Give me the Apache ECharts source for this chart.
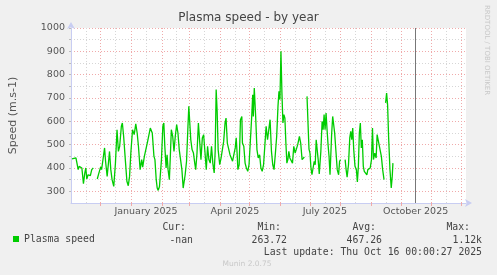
<!DOCTYPE html>
<html>
<head>
<meta charset="utf-8">
<script src="https://cdn.jsdelivr.net/npm/echarts@6/dist/echarts.min.js"></script>
<style>
html, body { margin: 0; padding: 0; background: #f0f0f0; }
#chart { width: 497px; height: 275px; }
</style>
</head>
<body>
<div id="chart"></div>
<script>
// day 0 = 2024-11-01, one value every day or so, null = no data
var startDate = '2024-11-01';
var spanDays = 400;
var nowDate = '2025-10-16';

var days = [1, 5, 5.6, 7.3, 8.3, 10, 11, 12.6, 14, 15, 16, 17.3, 18.3, 19.6, 21, 22.6, 24.5,
    26.6, 28.3, 30, 31, 32.6, 34, 35, 36.6, 37.6, 39, 40.3, 41.6, 43.3, 45, 46.6, 48, 49.3, 51, 52,
    53.3, 55, 56.6, 58, 59.3, 60.6, 62.3, 64, 65.6, 67, 68.3, 70, 71.6, 72.6, 74.3, 76, 77.6, 79,
    80.3, 82.3, 84, 85, 86.3, 87.3, 88.3, 89.6, 90.6, 91.6, 93, 94, 95, 96.3, 97.3, 98.3, 99.6,
    100.6, 101.6, 103, 104.3, 105.6, 107, 108.3, 109.6, 111, 112.3, 113.6, 114.6, 115.6, 117,
    118.3, 119.3, 120.3, 121.3, 122.6, 124, 125.3, 126.3, 127.6, 129, 130.3, 131.6, 133, 134.3,
    135.6, 137, 138.3, 139.6, 141, 142.3, 143.6, 145, 146, 147, 148, 149, 150.6, 152, 153.3,
    154.6, 156, 157, 158.3, 159.6, 161, 162.3, 163.6, 165, 166.3, 167.3, 168.3, 169, 170.3,
    171.6, 173, 173.6, 175, 176.3, 177.6, 179, 180.3, 181.6, 183, 184, 184.6, 185.6, 187, 188.3,
    189.6, 191, 192.3, 193.6, 195, 196.3, 197.6, 199, 200.3, 201.6, 203, 204.3, 205.6, 207,
    208.3, 209.6, 210.6, 211.6, 212.6, 213.6, 214.6, 215.6, 216.6, 217.6, 218.6, 219.6, 220.6,
    221.6, 223, 224.3, 225.6, 227, 228.3, 229.6, 231.3, 232.6, 234, 235, 236.3, 237.6,
    239, 240, 241, 242, 243, 244, 245.3, 246.3, 247.3, 248.3, 249.3, 250.3, 251.4, 253, 254.3,
    255.3, 256.3, 257.3, 258.3, 259.3, 260.3, 261.3, 262.3, 263, 264, 265, 266, 267, 268.3,
    269.6, 271, 272, 273, 275.3,
    277.6, 278.6, 279.6, 281, 282.3, 283.3, 284.3, 285.3, 286.3, 287.6, 289, 290, 291, 292, 293,
    294, 295, 296, 297, 298.3, 299.6, 300.6, 301.6, 303, 304.3, 305.3, 306.3, 307.6, 309, 310,
    312.3, 313.3, 314.3, 315.6, 317, 317.8,
    318.6, 319.6, 320.6, 321.6, 323, 324.3, 325.3, 326];

var speeds = [439, 443, 436, 393, 407, 414, 400, 333, 379, 400, 353, 371, 379, 367, 393, 400, null,
    353, 379, 404, 393, 443, 486, 429, 364, 407, 471, 393, 350, 321, 421, 564, 471, 493, 579, 593,
    536, 436, 343, 324, 364, 464, 564, 543, 589, 550, 493, 393, 436, 404, 450, 457, 514, 507,
    571, 550, 450, 436, 350, 314, 304, 321, 314, 436, 579, 593, 493, 400, 457, 393, 350,
    450, 564, 536, 471, 536, 586, 550, 479, 471, 393, 314, 321, 371, 429,
    564, 664, 671, 521, 479, 464, 421, 393, 464, 593, 514, 436, 529, 543,
    471, 393, 493, 436, 421, 493, 421, 379, 471, 736, 643, 479, 414, 443, 450,
    514, 593, 614, 507, 500, 457, 450, 429, 421, 486, 529, 457, 393, 414,
    607, 621, 507, 493, 421, 400, 386, 414, 514, 621, 714, 621, 743, 621, 479,
    443, 457, 400, 386, 414, 407, 579, 521, 529, 607, 471, 414, 393, 464,
    536, 664, 729, 693, 900, 721, 593, 629, 614, 507, 421, 436, 471,
    443, 450, 421, 493, 464, 471, 500, 536, 507, 436, 429, 447, null,
    707, 593, 481, 464, 400, 371, 367, 429, 414, 521, 514, 436, 375, 471, 600,
    564, 629, 564, 636, 564, 500, 450, 371, 379, 550, 621, 629, 550, 471,
    393, 371, 429, 436, null,
    436, 393, 361, 414, 529, 557, 521, 571, 479, 407, 393, 340, 407, 550, 593,
    486, 521, 407, 386, 393, 371, 393, 386, 400, 436, 571, 436, 464, 443, 543,
    493, 500, 450, 393, 350, null,
    679, 721, 671, 536, 393, 314, 364, 421];

var monthStarts = ['2024-11-01', '2024-12-01', '2025-01-01', '2025-02-01', '2025-03-01', '2025-04-01',
    '2025-05-01', '2025-06-01', '2025-07-01', '2025-08-01', '2025-09-01', '2025-10-01', '2025-11-01',
    '2025-12-01'];
var labelMonths = ['2025-01-01', '2025-04-01', '2025-07-01', '2025-10-01'];
var labelTexts = ['January 2025', 'April 2025', 'July 2025', 'October 2025'];
var yMin = 250;
var yLabels = [300, 400, 500, 600, 700, 800, 900, 1000];

var statNames = ['Cur:', 'Min:', 'Avg:', 'Max:'];
var statValues = ['-nan', '263.72', '467.26', '1.12k'];
var lastUpdate = 'Last update: Thu Oct 16 00:00:27 2025';

function dayOf(s) {
    return (Date.parse(s) - Date.parse(startDate)) / 86400000;
}

// red lines on the 1st, grey ones mid-month
var monthOffsets = monthStarts.slice(1).map(dayOf);
var midOffsets = monthStarts.map(function (s) { return dayOf(s) + 15; });
var labelOffsets = labelMonths.map(function (s) { return dayOf(s) + 15; });

var seriesData = days.map(function (d, i) {
    return [d, speeds[i] === null ? '-' : speeds[i]];
});

var gridRed = '#f0aaaa';
var gridGrey = '#d6d6d6';
var axisBlue = '#c8cdf2';
var textGrey = '#555';
var mono = '"DejaVu Sans Mono", monospace';

var myChart = echarts.init(document.getElementById('chart'));

var option = {
    backgroundColor: '#f0f0f0',
    animation: false,
    title: {
        text: 'Plasma speed - by year',
        left: 'center',
        top: 12,
        padding: 0,
        textStyle: { fontFamily: 'DejaVu Sans', fontSize: 12, fontWeight: 'normal', color: '#444' }
    },
    legend: {
        data: ['Plasma speed'],
        left: 13,
        top: 234,
        padding: 0,
        icon: 'rect',
        itemWidth: 6,
        itemHeight: 6,
        textStyle: { fontFamily: mono, fontSize: 9.8, color: '#444' }
    },
    grid: {
        left: 66,
        top: 28,
        width: 400,
        height: 175,
        show: true,
        backgroundColor: '#ffffff',
        borderWidth: 0
    },
    xAxis: [{
        type: 'value',
        min: 0,
        max: spanDays,
        axisLine: {
            show: true,
            symbol: ['none', 'arrow'],
            symbolSize: [6, 7],
            symbolOffset: [0, 6],
            lineStyle: { color: axisBlue, width: 1 }
        },
        axisTick: {
            show: true,
            customValues: monthOffsets,
            length: 3,
            lineStyle: { color: gridRed }
        },
        axisLabel: {
            customValues: labelOffsets,
            margin: 4,
            fontFamily: 'DejaVu Sans',
            fontSize: 9.5,
            color: textGrey,
            formatter: function (v) {
                for (var i = 0; i < labelOffsets.length; i++) {
                    if (Math.abs(labelOffsets[i] - v) < 0.01) return labelTexts[i];
                }
                return '';
            }
        },
        splitLine: {
            show: true,
            lineStyle: { color: gridRed, type: [1, 2], width: 1 }
        }
    }, {
        // minor grid
        type: 'value',
        min: 0,
        max: spanDays,
        axisLine: { show: false },
        axisTick: { show: false, customValues: midOffsets },
        axisLabel: { show: false },
        splitLine: {
            show: true,
            lineStyle: { color: gridGrey, type: [1, 2], width: 1 }
        }
    }],
    yAxis: [{
        type: 'value',
        min: yMin,
        max: 1000,
        interval: 50,
        name: 'Speed (m.s-1)',
        nameLocation: 'middle',
        nameGap: 52,
        nameTextStyle: { fontFamily: 'DejaVu Sans', fontSize: 11, color: textGrey },
        axisLine: {
            show: true,
            symbol: ['none', 'arrow'],
            symbolSize: [6, 7],
            symbolOffset: [0, 6],
            lineStyle: { color: axisBlue, width: 1 }
        },
        axisTick: { show: true, length: 2, lineStyle: { color: '#bbb' } },
        axisLabel: {
            // the min value goes first so that showMinLabel drops it
            customValues: [yMin].concat(yLabels),
            showMinLabel: false,
            margin: 6,
            fontFamily: 'DejaVu Sans',
            fontSize: 9.5,
            color: textGrey,
            formatter: function (v) {
                return yLabels.indexOf(Math.round(Number(v))) >= 0 ? String(Math.round(Number(v))) : '';
            }
        },
        splitLine: {
            show: true,
            lineStyle: { color: [gridGrey, gridRed], type: [1, 2], width: 1 }
        }
    }],
    series: [{
        name: 'Plasma speed',
        type: 'line',
        xAxisIndex: 0,
        data: seriesData,
        showSymbol: false,
        connectNulls: false,
        color: '#00cc00',
        lineStyle: { color: '#00cc00', width: 1.3 },
        markLine: {
            silent: true,
            symbol: ['none', 'none'],
            label: { show: false },
            lineStyle: { color: '#777', type: 'solid', width: 1 },
            data: [{ xAxis: dayOf(nowDate) }]
        }
    }],
    graphic: []
};

var statRight = [186, 281, 376, 470];
var valueRight = [193, 287, 382, 482];
statNames.forEach(function (s, i) {
    option.graphic.push({
        type: 'text', x: statRight[i], y: 227,
        style: { text: s, fill: '#444', font: '9.8px ' + mono, align: 'right', verticalAlign: 'middle' }
    });
    option.graphic.push({
        type: 'text', x: valueRight[i], y: 240,
        style: { text: statValues[i], fill: '#444', font: '9.8px ' + mono, align: 'right', verticalAlign: 'middle' }
    });
});
option.graphic.push({
    type: 'text', x: 482, y: 252,
    style: { text: lastUpdate, fill: '#444', font: '9.8px ' + mono, align: 'right', verticalAlign: 'middle' }
});
option.graphic.push({
    type: 'text', x: 247, y: 264,
    style: { text: 'Munin 2.0.75', fill: '#c8c8c8', font: '7.5px "DejaVu Sans"', align: 'center', verticalAlign: 'middle' }
});
option.graphic.push({
    type: 'text', x: 487, y: 5, rotation: -Math.PI / 2,
    style: { text: 'RRDTOOL / TOBI OETIKER', fill: '#c8c8c8', font: '7px "DejaVu Sans"', align: 'left', verticalAlign: 'middle' }
});

myChart.setOption(option);
</script>
</body>
</html>
